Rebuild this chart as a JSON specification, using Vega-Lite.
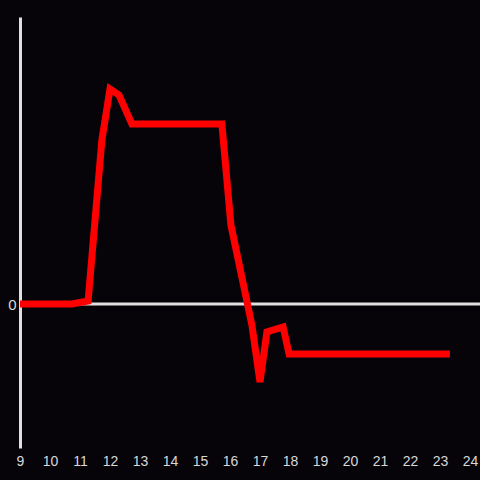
{
  "$schema": "https://vega.github.io/schema/vega-lite/v6.json",
  "autosize": "none",
  "width": 450,
  "height": 431,
  "padding": {"left": 20, "top": 17, "right": 10, "bottom": 32},
  "background": "#060409",
  "config": {
    "view": {"stroke": null},
    "axis": {"labelFont": "Liberation Sans", "labelFontSize": 14, "labelColor": "#d8d8d8", "grid": false, "ticks": false}
  },
  "encoding": {
    "x": {"field": "x", "type": "quantitative", "scale": {"domain": [9, 24], "nice": false, "zero": false},
          "axis": {"title": null, "domain": false, "values": [9,10,11,12,13,14,15,16,17,18,19,20,21,22,23,24], "labelPadding": 6, "labelFlush": false, "labelOverlap": false, "labelFontSize": 14}},
    "y": {"field": "y", "type": "quantitative", "scale": {"domain": [-1.44, 2.87], "nice": false, "zero": false},
          "axis": {"title": null, "domain": true, "domainColor": "#e0e0e0", "domainWidth": 3, "values": [0], "format": "d", "labelPadding": 4, "labelFontSize": 15}}
  },
  "layer": [
    {
      "data": {"values": [{"x": 9, "x2": 24.34, "y": 0}]},
      "mark": {"type": "rule", "color": "#e0e0e0", "strokeWidth": 3, "clip": false},
      "encoding": {
        "x2": {"field": "x2"}
      }
    },
    {
      "data": {"values": [
        {"x": 9, "y": 0},
        {"x": 10.73, "y": 0},
        {"x": 11.27, "y": 0.03},
        {"x": 11.73, "y": 1.64},
        {"x": 12.0, "y": 2.15},
        {"x": 12.3, "y": 2.09},
        {"x": 12.73, "y": 1.8},
        {"x": 15.73, "y": 1.8},
        {"x": 16.03, "y": 0.79},
        {"x": 16.73, "y": -0.21},
        {"x": 17.0, "y": -0.78},
        {"x": 17.23, "y": -0.28},
        {"x": 17.77, "y": -0.23},
        {"x": 17.97, "y": -0.5},
        {"x": 23.33, "y": -0.5}
      ]},
      "mark": {"type": "line", "color": "#ff0000", "strokeWidth": 7}
    }
  ]
}
